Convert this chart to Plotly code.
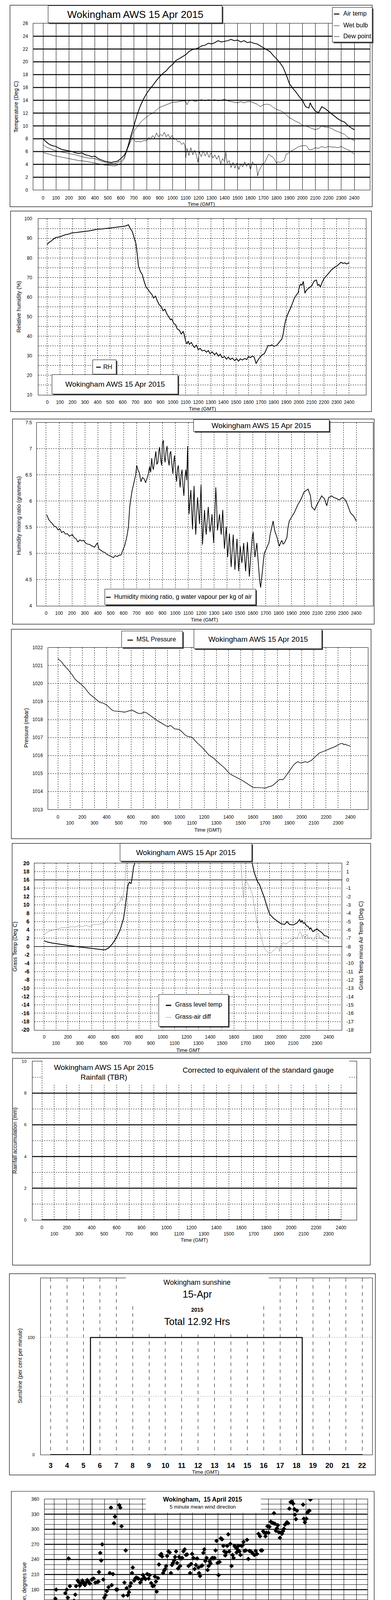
import plotly.graph_objects as go

W, H = 1000, 5000
FONT = "Liberation Sans, Arial, Helvetica, sans-serif"

# ------------------------------------------------------------------ data
# time in HHMM-style units (0..2400)
AIR_TEMP = [(0,8.0),(25,7.5),(50,7.1),(75,6.9),(100,6.8),(125,6.5),(150,6.3),(175,6.2),(200,6.1),(225,6.0),
            (250,5.8),(275,5.7),(300,5.8),(325,5.5),(350,5.4),(375,5.2),(400,5.3),(425,4.9),(450,4.7),(475,4.5),
            (500,4.4),(525,4.3),(550,4.4),(575,4.5),(600,4.9),(625,5.4),(640,5.9),(655,6.8),(670,7.9),(685,8.9),
            (700,10.0),(725,11.7),(750,13.1),(775,14.2),(800,15.1),(825,15.8),(850,16.4),(875,17.1),(900,17.7),
            (925,18.2),(950,18.6),(975,19.2),(1000,19.6),(1025,20.2),(1050,20.5),(1075,20.8),(1100,21.1),
            (1125,21.6),(1150,21.9),(1175,22.0),(1200,22.2),(1225,22.5),(1250,22.6),(1275,22.9),(1300,22.8),
            (1325,23.0),(1350,23.3),(1375,23.1),(1400,23.2),(1425,23.3),(1450,23.5),(1475,23.3),(1500,23.4),
            (1525,23.1),(1550,23.3),(1575,23.0),(1600,23.1),(1625,22.9),(1650,22.8),(1675,22.5),(1700,22.2),
            (1725,21.9),(1750,21.6),(1775,21.0),(1800,20.5),(1825,19.9),(1850,19.2),(1875,18.0),(1900,16.6),
            (1925,15.9),(1950,15.3),(1975,14.6),(2000,14.0),(2025,13.0),(2050,12.8),(2060,13.6),(2075,13.0),
            (2100,12.3),(2125,12.1),(2150,13.0),(2175,12.7),(2200,12.3),(2225,11.9),(2250,11.5),(2275,11.1),
            (2300,10.8),(2325,10.6),(2350,10.1),(2375,9.7),(2400,9.4)]
WET_BULB = [(0,7.1),(25,6.7),(50,6.5),(75,6.3),(100,6.1),(150,5.9),(200,5.7),(250,5.5),(300,5.2),(350,5.0),
            (400,4.9),(450,4.5),(500,4.2),(550,4.1),(600,4.5),(625,5.0),(650,6.3),(675,7.9),(700,9.2),(725,9.8),
            (750,10.5),(775,11.0),(800,11.4),(825,11.8),(850,12.0),(875,12.5),(900,12.9),(925,13.1),(950,13.3),
            (975,13.5),(1000,13.7),(1025,13.7),(1050,13.8),(1075,13.9),(1100,13.9),(1110,13.3),(1125,13.9),
            (1150,14.0),(1175,13.8),(1200,14.0),(1225,14.1),(1250,13.9),(1275,14.1),(1300,14.0),(1325,14.1),
            (1350,13.9),(1375,14.0),(1400,14.2),(1425,13.9),(1450,13.8),(1475,13.7),(1500,13.6),(1525,13.8),
            (1550,13.6),(1575,13.8),(1600,13.8),(1625,13.6),(1650,13.4),(1675,13.0),(1700,13.3),(1725,13.4),
            (1750,13.3),(1775,12.9),(1800,12.6),(1825,12.4),(1850,12.2),(1875,11.7),(1900,11.3),(1925,11.0),
            (1950,10.7),(1975,10.5),(2000,10.1),(2025,10.0),(2050,9.8),(2075,9.6),(2100,9.4),(2125,9.6),
            (2150,10.0),(2175,9.8),(2200,9.8),(2225,9.6),(2250,9.3),(2275,9.1),(2300,8.9),(2325,8.7),(2350,8.2),
            (2375,8.0),(2400,7.7)]
DEW_POINT = [(0,5.85),(25,5.7),(50,5.6),(75,5.4),(100,5.3),(125,5.2),(150,5.1),(175,5.0),(200,4.9),(225,4.8),
             (250,4.7),(275,4.6),(300,4.55),(325,4.5),(350,4.4),(375,4.3),(400,4.2),(425,4.1),(450,4.0),(475,3.9),
             (500,3.9),(525,3.8),(550,3.75),(575,3.9),(600,4.2),(625,4.8),(650,6.4),(675,7.5),(690,8.2),(700,7.9),
             (715,7.5),(730,7.6),(750,7.5),(775,7.7),(800,7.7),(815,8.2),(830,8.0),(845,8.5),(860,8.1),(875,8.9),
             (890,8.3),(905,8.7),(920,8.4),(935,9.0),(950,8.3),(965,8.7),(980,8.1),(995,8.5),(1010,7.9),
             (1025,8.0),(1040,7.5),(1055,7.6),(1070,7.1),(1085,7.4),(1095,6.8),(1100,5.0),(1110,6.5),(1125,5.4),
             (1140,6.6),(1155,5.5),(1170,6.2),(1185,5.3),(1195,4.3),(1205,6.0),(1220,5.2),(1235,6.1),(1250,5.3),
             (1265,5.9),(1280,5.1),(1295,5.8),(1310,5.0),(1325,5.5),(1340,4.8),(1355,5.4),(1370,4.1),(1385,4.9),
             (1400,4.4),(1410,5.9),(1420,4.2),(1435,4.6),(1450,3.5),(1465,4.3),(1480,3.4),(1495,4.2),(1510,3.2),
             (1525,4.1),(1540,3.6),(1555,4.4),(1570,3.7),(1585,4.2),(1600,3.2),(1615,4.4),(1630,3.9),(1645,4.0),
             (1655,2.2),(1665,3.0),(1680,3.6),(1695,4.1),(1710,4.3),(1725,5.0),(1740,5.6),(1755,5.3),(1770,5.2),
             (1785,4.8),(1800,4.2),(1815,4.4),(1830,4.3),(1845,4.5),(1860,4.6),(1875,5.6),(1890,5.7),(1900,5.9),
             (1925,6.2),(1950,6.5),(1975,6.8),(2000,6.9),(2025,6.95),(2040,6.7),(2050,6.3),(2075,6.3),(2100,6.6),
             (2125,6.5),(2150,6.8),(2175,6.6),(2200,6.8),(2225,6.7),(2250,6.7),(2275,6.6),(2300,6.8),(2325,6.5),
             (2350,6.3),(2375,6.0),(2400,5.6)]
RH = [(0,86.8),(10,87.8),(30,88.6),(50,89.7),(67,90.4),(85,90.6),(100,90.8),(120,91.3),(140,91.8),(170,92.2),
      (200,92.9),(230,93.0),(260,93.3),(300,93.6),(330,93.8),(360,94.2),(400,94.7),(430,94.8),(460,95.0),
      (500,95.4),(530,95.5),(560,95.8),(600,96.1),(625,96.4),(645,97.0),(660,95.0),(675,93.6),(690,90.5),
      (705,87.2),(715,82.0),(725,75.8),(740,73.0),(755,71.5),(770,68.0),(785,65.1),(800,64.0),(815,62.5),
      (830,61.5),(845,59.5),(860,60.5),(875,58.0),(890,56.0),(905,55.3),(920,53.0),(935,53.8),(950,51.5),
      (965,50.0),(980,48.4),(990,48.8),(1005,46.5),(1020,45.9),(1035,43.5),(1050,43.1),(1065,41.0),
      (1080,42.5),(1090,40.5),(1100,37.4),(1110,36.0),(1120,37.5),(1130,35.8),(1145,36.8),(1160,35.0),
      (1170,34.2),(1185,35.5),(1200,33.1),(1215,33.8),(1230,32.5),(1250,32.8),(1265,31.8),(1280,32.6),
      (1295,31.0),(1310,32.0),(1330,30.5),(1345,31.5),(1360,29.8),(1375,30.8),(1390,29.0),(1410,29.6),
      (1425,28.2),(1440,29.3),(1455,28.0),(1470,28.8),(1490,27.5),(1505,28.5),(1520,27.2),(1535,28.4),
      (1550,27.8),(1570,28.6),(1585,28.0),(1600,29.6),(1615,29.0),(1630,29.9),(1645,29.3),(1660,26.0),
      (1675,27.8),(1695,29.6),(1710,30.5),(1725,31.0),(1740,33.0),(1755,35.3),(1770,35.0),(1785,35.6),
      (1800,34.8),(1825,35.3),(1845,37.0),(1865,38.5),(1875,41.0),(1885,45.2),(1895,48.0),(1905,50.2),
      (1920,52.5),(1935,54.5),(1950,57.0),(1965,59.5),(1980,61.0),(1995,62.3),(2005,65.5),(2015,66.6),
      (2025,66.0),(2035,68.0),(2042,65.0),(2048,62.0),(2060,63.5),(2075,64.4),(2090,65.2),(2105,65.9),
      (2115,67.5),(2125,68.4),(2140,68.7),(2150,65.9),(2160,66.5),(2170,65.1),(2185,67.5),(2200,69.4),
      (2215,70.5),(2230,71.5),(2245,72.8),(2260,74.0),(2275,74.8),(2290,75.5),(2305,76.0),(2320,77.0),
      (2335,77.8),(2350,77.2),(2365,77.5),(2380,76.9),(2400,77.6)]
MIXING_RATIO = [(4,5.74),(20,5.65),(35,5.60),(48,5.57),(62,5.52),(77,5.51),(92,5.45),(106,5.47),(120,5.40),
                (135,5.42),(150,5.37),(164,5.38),(180,5.33),(203,5.36),(218,5.30),(232,5.28),(246,5.22),
                (261,5.26),(275,5.24),(290,5.25),(305,5.20),(319,5.18),(338,5.17),(357,5.14),(375,5.12),
                (396,5.20),(410,5.08),(425,5.06),(440,5.03),(454,5.02),(472,4.98),(492,4.96),(507,4.94),
                (521,4.92),(535,4.96),(550,4.94),(565,4.97),(579,4.97),(598,5.09),(608,5.15),(618,5.25),
                (627,5.35),(637,5.51),(647,5.89),(656,6.05),(666,6.21),(675,6.30),(685,6.42),(693,6.50),
                (701,6.68),(710,6.60),(720,6.55),(727,6.45),(734,6.37),(746,6.45),(759,6.42),(770,6.35),
                (782,6.44),(790,6.50),(801,6.66),(809,6.55),(817,6.82),(824,6.65),(830,6.60),(840,6.80),
                (849,6.95),(857,6.70),(865,6.74),(872,6.95),(878,7.03),(886,6.80),(894,6.68),(900,7.10),
                (907,7.16),(914,6.85),(921,6.74),(928,6.95),(936,7.05),(944,6.80),(952,6.68),(958,6.90),
                (965,6.95),(973,6.70),(981,6.52),(987,6.75),(994,6.87),(1002,6.55),(1010,6.37),(1016,6.60),
                (1023,6.68),(1030,6.45),(1037,6.26),(1045,6.50),(1052,6.60),(1059,6.30),(1066,6.10),(1074,6.45),
                (1081,6.60),(1088,6.40),(1095,7.05),(1100,6.30),(1106,5.75),(1113,6.00),(1120,6.21),(1127,5.80),
                (1133,5.46),(1139,5.90),(1145,6.29),(1152,5.70),(1158,5.36),(1165,5.75),(1172,6.07),(1180,5.80),
                (1187,5.56),(1193,5.95),(1199,6.31),(1205,5.70),(1210,5.17),(1218,5.50),(1226,5.83),(1232,5.55),
                (1239,5.36),(1247,5.65),(1255,5.89),(1262,5.60),(1268,5.41),(1276,5.55),(1284,5.75),(1290,5.45),
                (1297,5.20),(1305,5.70),(1313,6.26),(1320,5.90),(1326,5.44),(1334,5.60),(1342,5.75),(1348,5.55),
                (1355,5.36),(1361,5.60),(1367,5.83),(1374,5.40),(1380,5.09),(1387,5.30),(1394,5.51),(1400,5.20),
                (1405,4.93),(1412,5.15),(1419,5.38),(1426,5.00),(1432,4.74),(1440,5.05),(1448,5.36),(1455,5.00),
                (1461,4.69),(1469,5.00),(1477,5.28),(1484,4.95),(1490,4.66),(1496,4.90),(1502,5.14),(1508,4.98),
                (1515,4.82),(1522,5.00),(1529,5.20),(1537,4.90),(1544,4.66),(1551,4.95),(1558,5.22),(1565,4.90),
                (1573,4.56),(1581,4.85),(1589,5.14),(1595,5.30),(1602,5.41),(1609,5.15),(1616,4.93),(1623,5.05),
                (1631,5.20),(1638,4.95),(1645,4.72),(1652,4.50),(1660,4.35),(1667,4.50),(1674,4.66),(1681,4.85),
                (1689,5.01),(1697,5.05),(1705,5.09),(1714,5.15),(1724,5.20),(1733,5.35),(1743,5.46),(1750,5.55),
                (1757,5.62),(1764,5.50),(1772,5.41),(1781,5.35),(1790,5.28),(1797,5.20),(1805,5.14),(1814,5.20),
                (1824,5.25),(1834,5.18),(1844,5.20),(1853,5.25),(1863,5.30),(1872,5.50),(1882,5.62),(1891,5.66),
                (1901,5.70),(1911,5.74),(1921,5.78),(1935,5.86),(1950,5.94),(1965,6.00),(1979,6.07),(1988,6.13),
                (1998,6.18),(2012,6.20),(2027,6.23),(2036,6.17),(2046,6.10),(2051,5.98),(2056,5.89),(2067,5.86),
                (2079,5.83),(2090,5.90),(2104,5.97),(2118,6.03),(2133,6.10),(2143,6.07),(2153,6.05),(2162,5.98),
                (2172,5.91),(2180,6.00),(2187,6.07),(2198,6.08),(2210,6.10),(2225,6.07),(2239,6.06),(2254,6.04),
                (2268,6.02),(2283,6.05),(2297,6.07),(2307,6.04),(2317,6.02),(2326,5.97),(2336,5.91),(2346,5.84),
                (2355,5.78),(2365,5.75),(2375,5.73),(2388,5.68),(2400,5.62)]
PRESSURE = [(0,1021.38),(14,1021.30),(27,1021.23),(42,1021.10),(57,1020.96),(78,1020.82),(98,1020.65),
            (118,1020.48),(139,1020.26),(160,1020.12),(180,1020.03),(200,1019.90),(221,1019.76),(241,1019.58),
            (262,1019.41),(282,1019.30),(303,1019.18),(323,1019.06),(344,1018.95),(364,1018.93),(384,1018.87),
            (405,1018.78),(425,1018.64),(440,1018.55),(456,1018.48),(480,1018.47),(507,1018.45),(528,1018.43),
            (548,1018.41),(578,1018.47),(609,1018.52),(630,1018.45),(650,1018.37),(665,1018.34),(681,1018.33),
            (697,1018.38),(712,1018.41),(733,1018.35),(753,1018.25),(773,1018.15),(793,1018.06),(814,1017.95),
            (834,1017.87),(855,1017.78),(875,1017.71),(890,1017.64),(906,1017.60),(916,1017.66),(926,1017.67),
            (942,1017.58),(957,1017.48),(977,1017.47),(998,1017.44),(1018,1017.32),(1039,1017.17),(1055,1017.09),
            (1070,1017.05),(1085,1017.04),(1100,1017.02),(1116,1016.90),(1131,1016.78),(1146,1016.68),
            (1162,1016.59),(1182,1016.46),(1202,1016.32),(1222,1016.16),(1243,1016.01),(1263,1015.92),
            (1284,1015.82),(1304,1015.68),(1325,1015.55),(1345,1015.44),(1366,1015.32),(1386,1015.16),
            (1407,1015.01),(1427,1014.92),(1448,1014.85),(1468,1014.78),(1489,1014.70),(1510,1014.63),
            (1530,1014.54),(1550,1014.45),(1571,1014.35),(1586,1014.28),(1601,1014.23),(1627,1014.22),
            (1652,1014.22),(1672,1014.21),(1693,1014.19),(1708,1014.20),(1724,1014.25),(1740,1014.28),
            (1755,1014.31),(1770,1014.38),(1785,1014.47),(1800,1014.57),(1816,1014.66),(1831,1014.67),
            (1847,1014.66),(1862,1014.78),(1877,1014.93),(1893,1015.08),(1908,1015.24),(1924,1015.38),
            (1939,1015.51),(1954,1015.60),(1969,1015.66),(1985,1015.60),(2000,1015.59),(2015,1015.63),
            (2031,1015.66),(2041,1015.63),(2051,1015.62),(2066,1015.68),(2082,1015.74),(2097,1015.84),
            (2112,1015.93),(2128,1016.03),(2143,1016.13),(2164,1016.19),(2184,1016.24),(2205,1016.30),
            (2225,1016.36),(2246,1016.41),(2266,1016.47),(2287,1016.54),(2307,1016.63),(2322,1016.66),
            (2337,1016.67),(2347,1016.60),(2358,1016.63),(2368,1016.59),(2384,1016.56),(2399,1016.51)]
GRASS_TEMP = [(0,1.4),(27,1.1),(69,0.85),(112,0.65),(154,0.5),(196,0.3),(259,0.05),(322,-0.15),(385,-0.35),
              (448,-0.55),(491,-0.75),(516,-0.75),(543,-0.35),(575,0.65),(606,2.0),(638,3.8),(655,5.5),
              (669,6.7),(680,8.8),(691,11.5),(705,14.5),(718,15.5),(733,15.1),(743,16.8),(754,19.2),(764,20.0),
              (800,23.5),(900,27.0),(1000,29.5),(1100,31.0),(1200,32.0),(1300,31.5),(1400,30.5),(1500,28.0),
              (1600,24.5),(1686,21.0),(1754,20.0),(1771,17.8),(1796,15.8),(1817,14.8),(1838,13.2),(1859,11.5),
              (1880,9.5),(1901,7.8),(1933,6.8),(1964,6.2),(1996,5.5),(2027,5.3),(2048,6.0),(2069,5.3),
              (2101,5.2),(2133,5.7),(2154,6.5),(2165,5.8),(2175,6.3),(2185,5.6),(2196,5.7),(2212,5.0),
              (2227,4.8),(2240,4.2),(2248,4.5),(2265,3.6),(2280,3.8),(2300,4.3),(2312,3.9),(2330,3.6),
              (2343,3.3),(2364,2.6),(2385,2.5),(2402,2.0)]
GRASS_AIR_DIFF = [(0,-6.6),(27,-6.25),(69,-6.0),(112,-5.9),(154,-5.7),(196,-5.75),(230,-5.6),(259,-5.65),
                  (290,-5.5),(322,-5.6),(350,-5.45),(385,-5.6),(420,-5.35),(448,-5.35),(491,-5.25),(522,-5.0),
                  (554,-4.25),(585,-3.6),(617,-2.9),(640,-2.6),(648,-2.0),(660,-2.5),(669,-1.6),(680,-0.3),
                  (691,2.0),(720,4.0),(800,6.0),(1000,7.5),(1200,8.0),(1400,7.0),(1600,4.0),(1659,2.0),
                  (1668,0.1),(1680,-2.2),(1690,-0.5),(1701,-0.1),(1733,-0.9),(1754,-1.6),(1775,-3.4),(1796,-5.25),
                  (1817,-6.2),(1848,-7.9),(1865,-8.4),(1880,-8.6),(1895,-8.8),(1912,-8.8),(1930,-8.5),(1943,-8.4),
                  (1960,-8.1),(1975,-8.0),(1985,-8.6),(1996,-7.9),(2017,-7.5),(2030,-7.7),(2048,-7.6),(2065,-7.4),
                  (2080,-7.3),(2095,-7.1),(2112,-6.9),(2125,-7.1),(2143,-6.7),(2155,-6.2),(2164,-6.3),(2175,-6.9),
                  (2185,-6.6),(2200,-7.0),(2217,-6.5),(2230,-7.1),(2248,-6.9),(2265,-7.3),(2280,-7.2),(2295,-6.6),
                  (2312,-6.4),(2325,-7.0),(2343,-7.1),(2360,-7.2),(2375,-7.3),(2402,-7.5)]
RAINFALL = [(0,0.0),(2400,0.0)]
# sunshine: hours of day, per cent per minute
SUNSHINE = [(3,0),(5.43,100),(18.35,0),(22,0)]
# wind: hours of day
WIND_DIR = [(0,148),(0.1,162),(0.16,180),(0.26,130),(0.36,92),(0.4,59),(0.51,133),(0.59,134),(0.65,59),(0.75,99),
            (0.85,143),(0.89,173),(1.0,180),(1.09,164),(1.15,242),(1.25,187),(1.35,149),(1.45,143),(1.49,89),
            (1.58,158),(1.68,170),(1.74,187),(1.88,198),(1.96,195),(2.04,188),(2.14,192),(2.24,198),(2.34,194),
            (2.44,189),(2.53,194),(2.63,199),(2.73,196),(2.83,192),(2.99,200),(3.13,202),(3.27,194),(3.43,195),
            (3.52,196),(3.56,215),(3.66,253),(3.74,238),(3.82,270),(3.9,200),(3.98,164),(4.08,169),(4.18,177),
            (4.32,185),(4.42,213),(4.51,343),(4.57,189),(4.67,211),(4.75,312),(4.83,325),(4.93,180),(5.01,180),
            (5.09,12),(5.17,348),(5.25,343),(5.35,306),(5.43,156),(5.49,168),(5.58,194),(5.68,258),(5.76,183),
            (5.84,169),(5.94,175),(6.02,187),(6.1,193),(6.18,213),(6.24,224),(6.36,198),(6.44,202),(6.51,204),
            (6.59,203),(6.69,202),(6.83,194),(6.95,200),(7.05,209),(7.15,204),(7.25,201),(7.39,211),(7.5,202),
            (7.58,209),(7.7,193),(7.82,187),(7.92,188),(8.0,206),(8.08,196),(8.14,176),(8.24,203),(8.32,230),
            (8.42,249),(8.5,251),(8.57,246),(8.65,213),(8.73,218),(8.81,221),(8.89,227),(8.97,247),(9.07,256),
            (9.17,254),(9.27,213),(9.35,229),(9.43,233),(9.52,238),(9.6,245),(9.68,256),(9.76,233),(9.84,222),
            (9.92,245),(10.0,227),(10.08,242),(10.16,243),(10.26,256),(10.36,260),(10.46,249),(10.55,250),
            (10.67,227),(10.79,213),(10.87,231),(10.95,251),(11.05,243),(11.15,221),(11.25,229),(11.35,242),
            (11.45,224),(11.5,213),(11.58,207),(11.68,227),(11.76,228),(11.84,253),(11.92,260),(12.0,237),
            (12.1,243),(12.18,219),(12.26,227),(12.34,236),(12.42,232),(12.5,242),(12.57,243),(12.65,242),
            (12.73,243),(12.81,258),(12.89,277),(12.97,233),(13.05,209),(13.13,235),(13.23,282),(13.33,280),
            (13.43,267),(13.5,256),(13.58,248),(13.66,254),(13.74,267),(13.82,290),(13.9,256),(13.98,271),
            (14.08,227),(14.16,249),(14.24,243),(14.32,267),(14.4,264),(14.48,254),(14.55,260),(14.63,267),
            (14.71,256),(14.79,249),(14.87,267),(14.95,268),(15.03,275),(15.11,257),(15.21,258),(15.31,279),
            (15.41,241),(15.5,257),(15.6,256),(15.7,254),(15.8,251),(15.9,249),(16.0,257),(16.1,251),(16.22,291),
            (16.34,286),(16.42,258),(16.5,258),(16.59,296),(16.69,293),(16.77,286),(16.85,293),(16.93,306),
            (17.01,293),(17.09,305),(17.19,315),(17.29,313),(17.39,312),(17.45,332),(17.52,311),(17.6,297),
            (17.68,302),(17.76,308),(17.84,294),(17.92,283),(18.0,293),(18.08,291),(18.16,296),(18.24,301),
            (18.32,309),(18.4,311),(18.48,314),(18.57,312),(18.67,341),(18.77,354),(18.87,355),(18.97,351),
            (19.07,340),(19.11,329),(19.19,320),(19.27,337),(19.35,10),(19.43,28),(19.52,22),(19.6,6),(19.68,1),
            (19.76,349),(19.82,321),(19.9,314),(20.02,321),(20.1,333),(20.18,336),(20.26,337),(20.34,359),
            (20.42,3),(20.5,6),(20.57,4),(20.65,5),(20.75,10),(20.85,19),(20.93,33),(21.01,32),(21.09,32),
            (21.17,46),(21.25,30),(21.33,46),(21.41,48),(21.49,46),(21.56,39),(21.68,38),(21.76,32),(21.84,43),
            (21.92,36),(22.0,37),(22.08,36),(22.16,40),(22.24,39),(22.34,39),(22.44,47),(22.51,43),(22.59,39),
            (22.67,41),(22.75,46),(22.83,40),(22.93,54),(23.03,58),(23.11,62),(23.19,65),(23.27,68),(23.35,70),
            (23.43,66),(23.5,64),(23.58,62),(23.66,65),(23.74,62),(23.82,59),(23.92,58)]
WIND_MEAN = [(0,0.6),(0.29,0.5),(0.58,0.4),(0.87,0.9),(1.16,1.2),(1.35,0.6),(1.64,0.9),(1.83,2.2),(2.12,2.7),
             (2.41,3.0),(2.7,3.2),(2.99,3.2),(3.28,3.0),(3.57,3.0),(3.76,1.7),(4.05,0.4),(4.25,1.9),(4.44,1.2),
             (4.73,0.4),(5.02,0.9),(5.31,0.4),(5.6,0.9),(5.89,0.4),(6.18,0.9),(6.37,1.7),(6.56,2.5),(6.85,3.0),
             (7.14,3.0),(7.43,3.8),(7.72,4.3),(8.01,3.5),(8.3,1.9),(8.59,3.5),(8.98,4.6),(9.36,5.1),(9.65,7.4),
             (9.94,6.1),(10.23,6.7),(10.52,6.1),(10.91,6.4),(11.2,8.0),(11.49,7.4),(11.78,8.8),(12.07,6.7),
             (12.36,5.6),(12.64,6.9),(12.93,6.1),(13.22,5.1),(13.51,6.9),(13.8,6.4),(14.09,5.3),(14.38,7.4),
             (14.67,8.2),(14.96,8.0),(15.25,7.4),(15.54,8.2),(15.83,7.2),(16.12,6.7),(16.41,5.6),(16.7,6.7),
             (16.99,6.9),(17.18,5.1),(17.47,5.9),(17.76,5.6),(18.05,4.8),(18.34,4.8),(18.63,3.8),(18.92,1.9),
             (19.11,1.2),(19.4,1.7),(19.69,2.5),(19.98,2.7),(20.27,2.7),(20.56,3.2),(20.85,3.0),(21.04,2.2),
             (21.33,4.8),(21.62,4.6),(21.91,5.1),(22.2,4.6),(22.49,4.8),(22.78,3.5),(23.07,3.2),(23.36,6.7),
             (23.65,5.6),(23.84,4.3),(24.03,3.8)]
WIND_GUST = [(0,1.0),(0.25,1.8),(0.5,0.8),(0.75,1.5),(1.0,1.9),(1.25,1.2),(1.5,2.4),(1.75,2.0),(2.0,3.2),
             (2.25,3.5),(2.5,3.3),(2.75,4.2),(3.0,3.8),(3.25,3.6),(3.5,4.3),(3.75,2.5),(4.0,1.0),(4.25,2.8),
             (4.5,1.6),(4.75,1.0),(5.0,1.8),(5.25,0.6),(5.5,1.2),(5.75,0.8),(6.0,1.5),(6.25,2.5),(6.5,3.6),
             (6.75,4.0),(7.0,3.8),(7.25,4.6),(7.5,5.8),(7.75,5.0),(8.0,4.4),(8.25,3.0),(8.5,7.5),(8.75,6.0),
             (9.0,9.2),(9.2,7.0),(9.4,10.5),(9.6,8.0),(9.8,11.5),(10.0,7.5),(10.2,12.2),(10.4,8.5),(10.6,10.8),
             (10.8,6.5),(11.0,13.0),(11.2,8.0),(11.4,11.5),(11.6,14.5),(11.8,9.0),(12.0,12.5),(12.2,7.0),
             (12.4,13.0),(12.6,9.5),(12.8,14.0),(13.0,8.5),(13.2,12.0),(13.4,9.0),(13.6,14.5),(13.8,10.0),
             (14.0,12.0),(14.2,16.5),(14.4,11.0),(14.6,15.5),(14.8,9.5),(15.0,14.5),(15.2,10.0),(15.4,13.5),
             (15.6,8.5),(15.8,13.0),(16.0,9.5),(16.2,12.0),(16.4,8.0),(16.6,11.5),(16.8,8.5),(17.0,10.5),
             (17.2,7.5),(17.4,10.0),(17.6,7.0),(17.8,8.5),(18.0,8.5),(18.2,5.0),(18.4,5.5),(18.6,4.5),(18.8,2.5),
             (19.0,1.5),(19.2,2.0),(19.4,3.0),(19.6,2.5),(19.8,3.5),(20.0,4.0),(20.2,4.5),(20.4,3.8),(20.6,5.2),
             (20.8,4.5),(21.0,4.0),(21.1,7.5),(21.3,10.5),(21.5,7.0),(21.7,9.5),(21.9,7.5),(22.1,10.0),(22.3,6.5),
             (22.5,7.5),(22.7,5.0),(22.9,8.0),(23.1,5.5),(23.3,12.5),(23.5,8.0),(23.7,10.0),(23.85,6.0),(24.0,5.5)]
WIND_LOW_X10 = [(0.0,6.3),(0.05,5.5),(0.1,4.5),(0.15,6.0),(0.2,7.3),(0.25,6.5),(0.3,5.0),(0.35,4.2),(0.4,3.8),
                (0.45,5.2),(0.5,4.6),(0.55,6.8),(0.6,7.8),(0.65,8.3),(0.7,9.5),(0.75,11.0),(0.8,12.5),(0.85,14.5),
                (0.9,13.5),(0.95,11.5),(1.0,9.0),(1.05,7.0),(1.1,4.5),(1.15,3.5),(1.2,6.5),(1.25,7.5),(1.3,7.0),
                (1.35,9.0),(1.4,12.0),(1.45,16.0),(1.48,19.0),(1.5,22.0),(1.55,24.5),(1.6,26.5),(1.65,26.0),
                (1.7,27.0),(1.75,26.0),(1.85,27.0),(1.95,29.0),(2.05,28.5),(2.15,29.5),(2.25,31.0),(2.35,33.0),
                (2.45,32.0),(2.5,30.5),(2.55,29.5),(2.65,29.0),(2.75,28.0),(2.85,27.0),(2.9,26.5),(2.95,29.5),
                (3.0,32.0),(3.05,34.0),(3.1,33.0),(3.15,30.0),(3.2,28.0),(3.25,24.5),(3.3,20.0),(3.35,17.0),
                (3.4,14.0),(3.45,11.0),(3.5,8.0),(3.55,5.5),(3.6,3.5),(3.65,6.0),(3.7,10.0),(3.75,14.0),(3.8,17.0),
                (3.85,19.0),(3.9,17.5),(3.95,14.5),(4.0,12.0),(4.05,9.5),(4.1,7.5),(4.15,5.0),(4.2,3.0),(4.25,2.0),
                (4.3,4.5),(4.35,6.0),(4.4,8.0),(4.45,10.0),(4.5,11.0),(4.55,8.5),(4.6,6.0),(4.65,4.0),(4.7,2.5),
                (4.75,1.0),(4.8,0.5),(4.85,3.0),(4.9,6.0),(4.95,9.5),(5.0,12.5),(5.05,14.0),(5.1,11.0),(5.15,8.0),
                (5.2,5.5),(5.25,3.5),(5.3,1.5),(5.35,4.0),(5.4,7.0),(5.45,9.0),(5.5,8.5),(5.55,6.0),(5.6,3.5),
                (5.65,5.0),(5.7,8.5),(5.75,11.0),(5.8,13.5),(5.85,12.5),(5.9,10.5),(5.95,9.0),(6.0,11.0),(6.05,8.0),
                (6.1,6.0),(6.15,7.5),(6.2,10.0),(6.25,13.5),(6.3,16.5),(6.35,20.0),(6.4,23.0),(6.45,25.5),
                (6.5,28.0),(6.55,30.0),(6.65,30.5),(6.75,30.0),(6.85,29.5),(6.95,29.0),(7.0,31.5),(7.05,34.0),
                (7.1,36.0),(7.15,38.0),(7.2,38.5),(7.6,39.0),(7.65,37.5),(7.7,36.0),(7.75,34.5),(7.8,35.5),
                (7.85,37.5),(7.9,38.0),(7.95,36.5),(8.0,34.0),(8.05,30.0),(8.1,27.0),(8.15,24.0),(8.2,21.5),
                (8.25,22.5),(8.3,25.0),(8.35,27.5),(8.4,31.0),(8.45,33.5),(8.5,37.5),(8.52,39.5),
                (18.3,40.0),(18.35,37.5),(18.4,35.0),(18.45,34.0),(18.5,32.0),(18.55,29.5),(18.6,27.5),(18.65,25.0),
                (18.7,22.5),(18.75,20.5),(18.8,18.5),(18.85,16.0),(18.9,13.5),(18.95,13.0),(19.0,14.5),(19.05,15.5),
                (19.1,14.0),(19.15,13.5),(19.2,16.5),(19.25,20.0),(19.3,22.5),(19.35,25.0),(19.4,28.0),(19.45,29.5),
                (19.5,27.0),(19.55,25.5),(19.6,26.0),(19.7,25.5),(19.8,26.5),(19.9,28.5),(20.0,30.5),(20.05,31.5),
                (20.1,29.0),(20.15,27.5),(20.2,28.0),(20.3,30.0),(20.4,31.5),(20.5,31.0),(20.6,30.5),(20.7,31.5),
                (20.8,30.5),(20.9,32.0),(21.0,32.5),(21.05,30.0),(21.08,27.5),(21.1,24.5),(21.13,22.5),(21.15,26.0),
                (21.2,30.0),(21.25,35.0),(21.3,38.5),(22.6,39.0),(22.65,37.5),(22.7,35.5),(22.75,33.5),(22.8,31.5),
                (22.85,30.5),(22.9,29.5),(22.95,31.0),(23.0,32.0),(23.05,34.0),(23.1,37.5),(23.12,38.5),
                (24.0,38.0),(24.02,37.5)]

HHMM_TICKS = list(range(0, 2401, 100))
HOUR_TICKS_SUN = list(range(3, 23))
HOUR_TICKS_DIR = list(range(0, 25))
HOUR_TICKS_SPEED = list(range(0, 26))


def cols(pairs):
    return [p[0] for p in pairs], [p[1] for p in pairs]


# ------------------------------------------------------------------ helpers
def X(px):
    return px / W


def Y(py):
    return 1 - py / H


def ax_id(k, letter):
    return letter if k == 1 else f"{letter}{k}"


def xaxis(k, x0, x1, rng, tickvals, ticktext, griddash="dot", gridcolor="black", size=12, ticklen=8, grid=True):
    return dict(domain=[X(x0), X(x1)], range=rng, anchor=ax_id(k, "y"), tickmode="array",
                tickvals=tickvals, ticktext=ticktext, showgrid=grid, gridcolor=gridcolor, griddash=griddash,
                gridwidth=1, showline=True, mirror=True, linecolor="black", linewidth=1, zeroline=False,
                ticks="outside", ticklen=ticklen, tickcolor="rgba(0,0,0,0)",
                tickfont=dict(family=FONT, size=size, color="black"), fixedrange=True)


def yaxis(k, y0, y1, rng, tickvals, ticktext, griddash="dot", gridcolor="black", size=12, ticklen=8, grid=True):
    return dict(domain=[Y(y1), Y(y0)], range=rng, anchor=ax_id(k, "x"), tickmode="array",
                tickvals=tickvals, ticktext=ticktext, showgrid=grid, gridcolor=gridcolor, griddash=griddash,
                gridwidth=1, showline=True, mirror=True, linecolor="black", linewidth=1, zeroline=False,
                ticks="outside", ticklen=ticklen, tickcolor="rgba(0,0,0,0)",
                tickfont=dict(family=FONT, size=size, color="black"), fixedrange=True)


shapes = []
annotations = []


def rect(x0, y0, x1, y1, lw=1, fill="rgba(0,0,0,0)", lc="black", layer="above"):
    shapes.append(dict(type="rect", xref="paper", yref="paper", x0=X(x0), x1=X(x1), y0=Y(y1), y1=Y(y0),
                       line=dict(color=lc, width=lw), fillcolor=fill, layer=layer))


def white(x0, y0, x1, y1):
    rect(x0, y0, x1, y1, lw=0, fill="white")


def pline(x0, y0, x1, y1, lw=1, color="black", dash="solid"):
    shapes.append(dict(type="line", xref="paper", yref="paper", x0=X(x0), x1=X(x1), y0=Y(y0), y1=Y(y1),
                       line=dict(color=color, width=lw, dash=dash), layer="above"))


def shadow_box(x0, y0, x1, y1, off=3):
    rect(x0 + off, y0 + off, x1 + off, y1 + off, lw=0, fill="#404040")
    rect(x0, y0, x1, y1, lw=1, fill="white")


def hgrid(k, yv, lw, dash="solid", color="black", layer="below"):
    shapes.append(dict(type="line", xref=ax_id(k, "x") + " domain", yref=ax_id(k, "y"), x0=0, x1=1,
                       y0=yv, y1=yv, line=dict(color=color, width=lw, dash=dash), layer=layer))


def txt(x, y, s, size, bold=False, angle=0, xanchor="center", color="black"):
    annotations.append(dict(x=X(x), y=Y(y), xref="paper", yref="paper", text=f"<b>{s}</b>" if bold else s,
                            showarrow=False, font=dict(family=FONT, size=size, color=color),
                            xanchor=xanchor, yanchor="middle", textangle=angle))


def two_row(vals, fmt=str):
    return [fmt(v) if i % 2 == 0 else "<br>" + fmt(v) for i, v in enumerate(vals)]


fig = go.Figure()
lay = {}


def add_line(k, pairs, color="black", width=1, yaxis_override=None, shape="linear"):
    xs, ys = cols(pairs)
    fig.add_trace(go.Scatter(x=xs, y=ys, mode="lines", line=dict(color=color, width=width, shape=shape),
                             xaxis=ax_id(k, "x"), yaxis=yaxis_override or ax_id(k, "y"),
                             showlegend=False, hoverinfo="skip"))


# ------------------------------------------------------------------ panel 1: temperatures
lay["xaxis"] = xaxis(1, 85, 946, [-75.4, 2520.6], HHMM_TICKS, [str(v) for v in HHMM_TICKS],
                     griddash="solid", ticklen=9)
lay["yaxis"] = yaxis(1, 52, 480, [0, 26], list(range(0, 27, 2)), [str(v) for v in range(0, 27, 2)],
                     grid=False, ticklen=10)
for v in range(2, 25, 2):
    hgrid(1, v, 2.5)
add_line(1, AIR_TEMP, width=2)
add_line(1, WET_BULB, width=1)
add_line(1, DEW_POINT, width=1)
rect(25.5, 5.4, 952, 523, lw=1.2)
shadow_box(123, 6.4, 568, 50.7)
txt(346, 29, "Wokingham AWS 15 Apr 2015", 26)
shadow_box(850, 11, 952, 100)
for yy, lab, lw in [(27, "Air temp", 2.5), (57, "Wet bulb", 1), (85, "Dew point", 1)]:
    pline(854, yy + 1, 868, yy + 1, lw=lw)
    txt(876, yy, lab, 16, xanchor="left")
txt(41, 266, "Temperature (Deg C)", 14, angle=-90)
txt(515, 516, "Time (GMT)", 13)

# ------------------------------------------------------------------ panel 2: RH
lay["xaxis2"] = xaxis(2, 97.6, 936, [-72.7, 2533.7], HHMM_TICKS, [str(v) for v in HHMM_TICKS], ticklen=8)
lay["yaxis2"] = yaxis(2, 554, 1006, [10, 100], list(range(10, 101, 5)),
                      [str(v) if v % 10 == 0 else "" for v in range(10, 101, 5)], ticklen=12)
add_line(2, RH, width=2)
rect(27, 534, 950, 1049, lw=1.2)
shadow_box(237, 916, 297, 953)
pline(246, 935, 258, 935, lw=2.5)
txt(262, 934, "RH", 16, xanchor="left")
shadow_box(133, 954, 455, 1004)
txt(294, 979, "Wokingham AWS 15 Apr 2015", 19)
txt(48, 780, "Relative humidity (%)", 14, angle=-90)
txt(518, 1042, "Time (GMT)", 13)

# ------------------------------------------------------------------ panel 3: mixing ratio
mr_ticks = [4, 4.5, 5, 5.5, 6, 6.5, 7, 7.5]
lay["xaxis3"] = xaxis(3, 94, 954, [-72.6, 2530], HHMM_TICKS, [str(v) for v in HHMM_TICKS], ticklen=8)
lay["yaxis3"] = yaxis(3, 1077, 1548, [4, 7.5], mr_ticks, ["4", "4.5", "5", "5.5", "6", "6.5", "7", "7.5"],
                      ticklen=9)
add_line(3, MIXING_RATIO, width=1.8)
rect(32, 1068, 957, 1595, lw=1.2)
shadow_box(495, 1069.5, 842, 1100)
txt(668, 1085, "Wokingham AWS 15 Apr 2015", 19)
shadow_box(268, 1505, 654, 1545)
pline(271, 1526, 283, 1526, lw=2.5)
txt(290, 1524, "Humidity mixing ratio, g water vapour per kg of air", 16, xanchor="left")
txt(48, 1317, "Humidity mixing ratio (grammes)", 14, angle=-90)
txt(523, 1584, "Time (GMT)", 13)

# ------------------------------------------------------------------ panel 4: pressure
lay["xaxis4"] = xaxis(4, 123, 941, [-80.2, 2544], HHMM_TICKS, two_row(HHMM_TICKS), ticklen=8)
lay["yaxis4"] = yaxis(4, 1655, 2071, [1013, 1022], list(range(1013, 1023)),
                      [str(v) for v in range(1013, 1023)], ticklen=10)
add_line(4, PRESSURE, width=1.5)
rect(29, 1608, 949, 2146, lw=1.2)
shadow_box(311, 1612.5, 467, 1655)
pline(326, 1636, 340, 1636, lw=2.5)
txt(347, 1634, "MSL Pressure", 16, xanchor="left")
shadow_box(496, 1608, 823, 1658)
txt(660, 1634, "Wokingham AWS 15 Apr 2015", 19)
txt(67, 1862, "Pressure (mbar)", 14, angle=-90)
txt(532, 2123, "Time (GMT)", 13)

# ------------------------------------------------------------------ panel 5: grass temperature
lay["xaxis5"] = xaxis(5, 88, 874, [-82.4, 2509], HHMM_TICKS, two_row(HHMM_TICKS), ticklen=7)
gl = list(range(-20, 21, 2))
lay["yaxis5"] = yaxis(5, 2209, 2637, [-20, 20], gl, [f"<b>{v}</b>" for v in gl], size=14, ticklen=9)
gr = list(range(-18, 3))
lay["yaxis10"] = dict(overlaying="y5", anchor="x5", side="right", range=[-18, 2], tickmode="array",
                      tickvals=gr, ticktext=[str(v) for v in gr], showgrid=False, zeroline=False,
                      showline=False, ticks="outside", ticklen=8, tickcolor="rgba(0,0,0,0)",
                      tickfont=dict(family=FONT, size=13, color="black"), fixedrange=True)
hgrid(5, 16, 1.5)
hgrid(5, 0, 1.5)
add_line(5, GRASS_TEMP, width=2)
add_line(5, GRASS_AIR_DIFF, color="#8a8a8a", width=1, yaxis_override="y10")
rect(31, 2158, 948, 2696, lw=1.2)
shadow_box(307, 2158, 644, 2203.6)
txt(475, 2181, "Wokingham AWS 15 Apr 2015", 19)
shadow_box(406, 2546, 584, 2628)
pline(424, 2574, 438, 2574, lw=3)
txt(446, 2572, "Grass level temp", 16, xanchor="left")
pline(424, 2605, 438, 2605, lw=1, color="#8a8a8a")
txt(446, 2603, "Grass-air diff", 16, xanchor="left")
txt(38, 2423, "Grass Temp (Deg C)", 14, angle=-90)
txt(923, 2421, "Grass Temp minus Air Temp (Deg C)", 14, angle=-90)
txt(481, 2689, "Time GMT", 13)

# ------------------------------------------------------------------ panel 6: rainfall
lay["xaxis6"] = xaxis(6, 83, 912, [-75.3, 2525], HHMM_TICKS, two_row(HHMM_TICKS), ticklen=9)
lay["yaxis6"] = yaxis(6, 2718, 3125, [0, 10], [0, 2, 4, 6, 8, 10], ["0", "2", "4", "6", "8", "10"],
                      grid=False, size=11, ticklen=12)
for v in (2, 4, 6, 8):
    hgrid(6, v, 2.5)
for v in (1, 3, 5, 7, 9):
    hgrid(6, v, 1, dash="dot")
add_line(6, RAINFALL, width=3)
white(108, 2716, 893, 2777)
rect(32, 2710, 947, 3241, lw=1.2)
txt(265, 2733, "Wokingham AWS 15 Apr 2015", 19)
txt(265, 2758, "Rainfall (TBR)", 19)
txt(660, 2740, "Corrected to equivalent of the standard gauge", 19)
txt(38, 2921, "Rainfall accumulation (mm)", 14, angle=-90)
txt(497, 3177, "Time (GMT)", 13)

# ------------------------------------------------------------------ panel 7: sunshine
lay["xaxis7"] = xaxis(7, 104, 952, [2.392, 22.62], HOUR_TICKS_SUN, [f"<b>{v}</b>" for v in HOUR_TICKS_SUN],
                      griddash="dash", size=18, ticklen=11)
lay["yaxis7"] = yaxis(7, 3274, 3728, [0, 150.8], [0, 50, 100], ["0", "", "100"], gridcolor="#9a9a9a",
                      size=11, ticklen=12)
add_line(7, SUNSHINE, width=2.5, shape="hv")
white(322, 3272, 687, 3339)
white(357, 3339, 654, 3416)
rect(24, 3263, 960, 3780, lw=1.2)
txt(504, 3286, "Wokingham sunshine", 18)
txt(504, 3316, "15-Apr", 25)
txt(504, 3356, "2015", 14, bold=True)
txt(504, 3386, "Total 12.92 Hrs", 25)
txt(51, 3500, "Sunshine (per cent per minute)", 14, angle=-90)
txt(526, 3773, "Time (GMT)", 13)

# ------------------------------------------------------------------ panel 8: wind direction
dir_ticks = list(range(0, 361, 10))
lay["xaxis8"] = xaxis(8, 113.5, 939.5, [-0.773, 24.857], HOUR_TICKS_DIR, [str(v) for v in HOUR_TICKS_DIR],
                      griddash="solid", ticklen=10)
lay["yaxis8"] = yaxis(8, 3842, 4307, [0, 360], dir_ticks,
                      [str(v) if v % 30 == 0 else "" for v in dir_ticks], griddash="solid", size=12, ticklen=10)
for v in range(30, 331, 30):
    hgrid(8, v, 2.5)
xs, ys = cols(WIND_DIR)
fig.add_trace(go.Scatter(x=xs, y=ys, mode="markers", marker=dict(symbol="diamond", size=9, color="black"),
                         xaxis="x8", yaxis="y8", showlegend=False, hoverinfo="skip"))
white(373, 3840, 667, 3877)
rect(29, 3822, 957, 4356, lw=1.2)
txt(518, 3843, "Wokingham,  15 April 2015", 16, bold=True)
txt(518, 3862, "5 minute mean wind direction", 13)
txt(62, 4075, "Direction, degrees true", 14, angle=-90)
txt(526, 4343, "Time (GMT)", 13)

# ------------------------------------------------------------------ panel 9: wind speed
spd_ticks = list(range(0, 51, 5))
lay["xaxis9"] = xaxis(9, 87, 950, [-0.757, 25.36], HOUR_TICKS_SPEED,
                      [("" if h > 23 else (f"{h:02d}:00" if h % 2 == 0 else f"<br>{h:02d}:00"))
                       for h in HOUR_TICKS_SPEED], ticklen=9)
lay["yaxis9"] = yaxis(9, 4417.6, 4813, [0, 50], spd_ticks,
                      [str(v) if v % 10 == 0 else "" for v in spd_ticks], ticklen=10)
add_line(9, WIND_GUST, color="#4a4a4a", width=1)
add_line(9, WIND_MEAN, width=2)
xs, ys = cols(WIND_LOW_X10)
fig.add_trace(go.Scatter(x=xs, y=ys, mode="markers",
                         marker=dict(symbol="diamond", size=9, color="#bdbdbd", line=dict(color="#333333", width=1)),
                         xaxis="x9", yaxis="y9", showlegend=False, hoverinfo="skip"))
white(92, 4415.5, 433, 4419.5)
rect(29, 4373.6, 957, 4888, lw=1.2)
txt(261, 4396, "Wokingham,  15 April 2015", 18)
txt(573, 4385, "Wind speed, 10 min mean / max gust", 14)
txt(573, 4404, "Speeds below 4 kt shown at x10 scale", 14)
shadow_box(728, 4379, 949, 4405)
pline(762, 4393, 772, 4393, lw=2.5)
txt(779, 4392, "Speed x 1", 11, xanchor="left")
annotations.append(dict(x=X(853), y=Y(4392), xref="paper", yref="paper", text="◇", showarrow=False,
                        font=dict(family="DejaVu Sans", size=11, color="#333333"), xanchor="center",
                        yanchor="middle"))
txt(864, 4392, "Speed / 10", 11, xanchor="left")
txt(43, 4615, "Speed (knots)", 14, angle=-90)
txt(516, 4865, "Time (GMT)", 13)

fig.update_layout(width=W, height=H, margin=dict(l=0, r=0, t=0, b=0), paper_bgcolor="white",
                  plot_bgcolor="white", showlegend=False, shapes=shapes, annotations=annotations,
                  font=dict(family=FONT, color="black"), **lay)

fig.write_html("out.html", config={"displayModeBar": False, "staticPlot": True},
               post_script="document.body.style.margin='0';")
